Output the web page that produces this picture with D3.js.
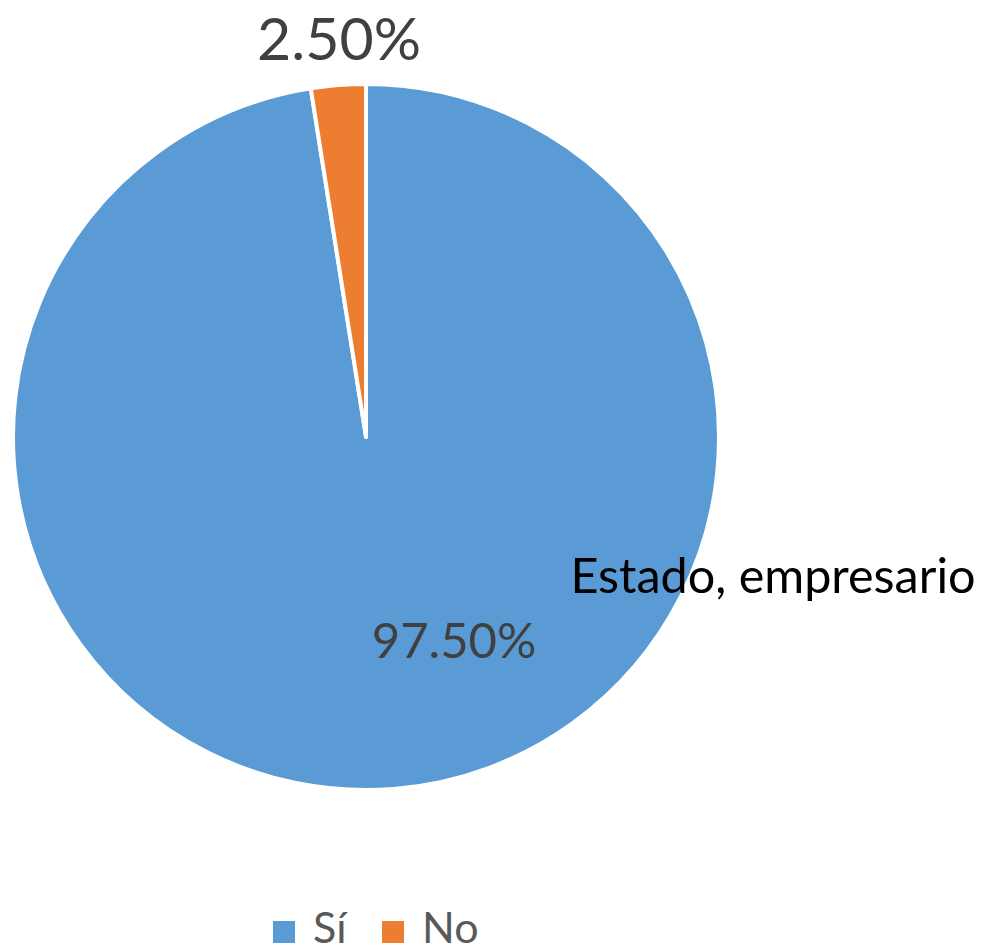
<!DOCTYPE html>
<html>
<head>
<meta charset="utf-8">
<script src="https://cdn.jsdelivr.net/npm/d3@7"></script>
<style>
  body { margin: 0; background: #fff; }
  svg text { font-family: Lato, "Open Sans", sans-serif; }
</style>
</head>
<body>
<div id="chart"></div>
<script>
// data
var categories = ['Sí', 'No'];
var values = [97.5, 2.5];
var colors = ['#5B9BD5', '#ED7D31'];
var valueLabels = ['97.50%', '2.50%'];
var titleText = 'Estado, empresario';

var W = 989, H = 951;
var cx = 366, cy = 437, R = 353;

var svg = d3.select('#chart').append('svg')
  .attr('width', W).attr('height', H);

var pie = d3.pie().sort(null).value(function(d){ return d; });
var arc = d3.arc().innerRadius(0).outerRadius(R);
var arcs = pie(values);

var g = svg.append('g').attr('transform', 'translate(' + cx + ',' + cy + ')');

g.selectAll('path')
  .data(arcs)
  .enter().append('path')
  .attr('d', arc)
  .attr('fill', function(d, i){ return colors[i]; })
  .attr('stroke', '#fff')
  .attr('stroke-width', 4)
  .attr('stroke-linejoin', 'round');

// value labels
svg.append('text')
  .attr('x', 454).attr('y', 658)
  .attr('text-anchor', 'middle')
  .attr('font-size', 49)
  .attr('fill', '#404040')
  .text(valueLabels[0]);

svg.append('text')
  .attr('x', 339).attr('y', 60)
  .attr('text-anchor', 'middle')
  .attr('font-size', 59)
  .attr('fill', '#404040')
  .text(valueLabels[1]);

// title sitting on the right of the pie
svg.append('text')
  .attr('x', 773).attr('y', 593)
  .attr('text-anchor', 'middle')
  .attr('font-size', 48.5)
  .attr('fill', '#000')
  .text(titleText);

// legend
var legX = [273, 382];
var leg = svg.selectAll('.leg')
  .data(categories)
  .enter().append('g')
  .attr('class', 'leg')
  .attr('transform', function(d, i){ return 'translate(' + legX[i] + ',921)'; });

leg.append('rect')
  .attr('width', 22).attr('height', 22)
  .attr('fill', function(d, i){ return colors[i]; });

leg.append('text')
  .attr('x', 40).attr('y', 22)
  .attr('font-size', 43)
  .attr('fill', '#595959')
  .text(function(d){ return d; });
</script>
</body>
</html>
